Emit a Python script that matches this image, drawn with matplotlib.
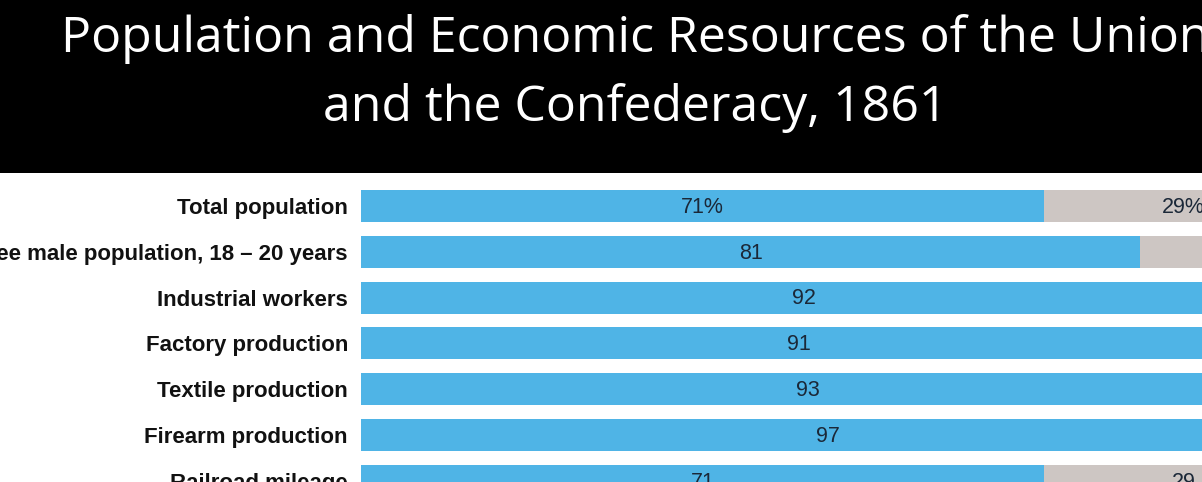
import matplotlib.pyplot as plt
from matplotlib.patches import Rectangle

# data (Union share, Confederacy share, in %)
categories = ['Total population', 'Free male population, 18 – 20 years', 'Industrial workers',
              'Factory production', 'Textile production', 'Firearm production', 'Railroad mileage']
union = [71, 81, 92, 91, 93, 97, 71]
confed = [29, 19, 8, 9, 7, 3, 29]
union_labels = ['71%', '81', '92', '91', '93', '97', '71']
confed_labels = ['29%', '', '', '', '', '', '29']

title_lines = ['Population and Economic Resources of the Union', 'and the Confederacy, 1861']

W, H = 1202, 482
fig = plt.figure(figsize=(W / 100, H / 100), dpi=100)
fig.patch.set_facecolor('white')

# black banner behind the title
fig.patches.append(Rectangle((0, 1 - 173 / H), 1, 173 / H, transform=fig.transFigure,
                             facecolor='black', edgecolor='none', zorder=0))
fig.text(635 / W, 1 - 52 / H, title_lines[0], color='white', fontsize=36,
         family='Open Sans', ha='center', va='baseline')
fig.text(635 / W, 1 - 121 / H, title_lines[1], color='white', fontsize=36,
         family='Open Sans', ha='center', va='baseline')

# axes: bar start at x=361 px, 1% = 9.62 px, figure cuts the chart on the right
px_per_pct = 9.62
row_px = 45.8
ax = fig.add_axes([361 / W, 0, 1 - 361 / W, (H - 173) / H])
ax.set_xlim(0, (W - 361) / px_per_pct)
top = -(206 - 173) / row_px
ax.set_ylim(top + (H - 173) / row_px, top)

ys = list(range(len(categories)))
blue = '#4fb4e6'
grey = '#cdc6c3'
ax.barh(ys, union, height=0.70, color=blue, edgecolor='none')
ax.barh(ys, confed, left=union, height=0.70, color=grey, edgecolor='none')

for y, u, c, ul, cl in zip(ys, union, confed, union_labels, confed_labels):
    ax.text(u / 2, y + 0.03, ul, ha='center', va='center', fontsize=15.5, color='#1b2838',
            family='Liberation Sans', clip_on=False)
    if cl:
        ax.text(u + c / 2, y + 0.03, cl, ha='center', va='center', fontsize=15.5,
                color='#1b2838', family='Liberation Sans', clip_on=False)

ax.set_yticks(ys)
ax.set_yticklabels(categories, fontsize=16, fontweight='bold', family='Liberation Sans',
                   color='#111111')
ax.tick_params(axis='y', length=0, pad=9.4)
ax.set_xticks([])
for s in ax.spines.values():
    s.set_visible(False)

fig.savefig('out.png', dpi=100)
